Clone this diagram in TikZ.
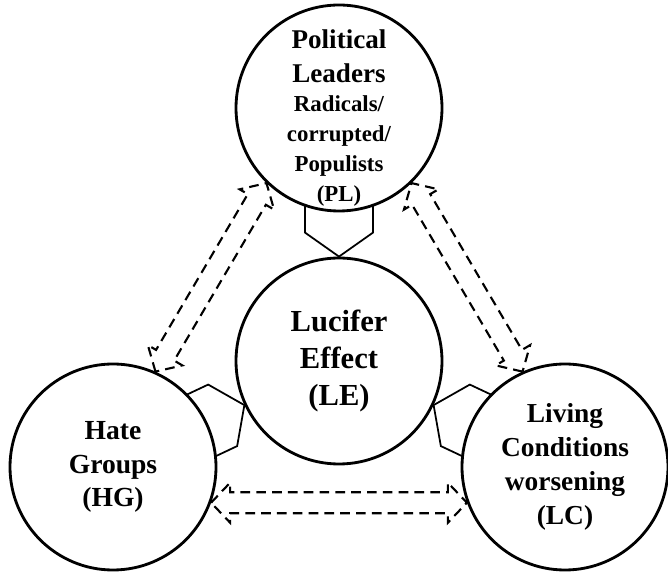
\documentclass[tikz,border=0pt]{standalone}
\usepackage{fontspec}
\setmainfont{Liberation Serif}
\usetikzlibrary{calc, backgrounds}

\tikzset{
    party/.style={circle, draw, line width=1.6pt, fill=white, minimum size=4.12cm, inner sep=-0.3cm, align=center},
    link/.style={line width=1pt, line join=miter},
    twoway/.style={line width=1.2pt, dash pattern=on 5.5pt off 3.5pt}
}

\newcommand{\plsmall}{\fontsize{13}{17}\selectfont}

\newcommand{\pentalink}[2]{%
    \draw[link] ($(#1)!1.4cm!(#2)!0.68cm!90:(#2)$) -- ($(#1)!0.48cm!(#2)!0.68cm!90:(#2)$) -- (#1)
        -- ($(#1)!0.48cm!(#2)!0.68cm!-90:(#2)$) -- ($(#1)!1.4cm!(#2)!0.68cm!-90:(#2)$);}

\newcommand{\twowayarrow}[2]{%
    \draw[twoway] (#1) -- ($(#1)!0.38cm!(#2)!0.4cm!90:(#2)$) -- ($(#1)!0.38cm!(#2)!0.21cm!90:(#2)$)
        -- ($(#2)!0.38cm!(#1)!0.21cm!-90:(#1)$) -- ($(#2)!0.38cm!(#1)!0.4cm!-90:(#1)$) -- (#2)
        -- ($(#2)!0.38cm!(#1)!0.4cm!90:(#1)$) -- ($(#2)!0.38cm!(#1)!0.21cm!90:(#1)$)
        -- ($(#1)!0.38cm!(#2)!0.21cm!-90:(#2)$) -- ($(#1)!0.38cm!(#2)!0.4cm!-90:(#2)$) -- cycle;}

\begin{document}
\begin{tikzpicture}
    \useasboundingbox (0, 0) rectangle (13.36, 11.46);

    \node[party, font=\bfseries\fontsize{15.4}{17}\selectfont] (PL) at (6.78, 9.3) {\rule{0pt}{22pt}Political\\[2.3pt]Leaders\\\plsmall Radicals/\\\plsmall corrupted/\\\plsmall Populists\\\plsmall (PL)};
    \node[party, font=\bfseries\fontsize{17.4}{21.3}\selectfont] (LE) at (6.78, 4.24) {Lucifer\\Effect\\(LE)};
    \node[party, font=\bfseries\fontsize{15.7}{19}\selectfont] (HG) at (2.26, 2.12) {Hate\\Groups\\(HG)};
    \node[party, font=\bfseries\fontsize{15.6}{19.3}\selectfont] (LC) at (11.3, 2.12) {Living\\Conditions\\worsening\\(LC)};

    \begin{scope}[on background layer]
        \pentalink{LE.90}{PL}
        \pentalink{LE.205}{HG}
        \pentalink{LE.335}{LC}

        \twowayarrow{HG.66}{PL.226}
        \twowayarrow{LC.114}{PL.314}
        \twowayarrow{HG.-20}{LC.200}
    \end{scope}
\end{tikzpicture}
\end{document}
